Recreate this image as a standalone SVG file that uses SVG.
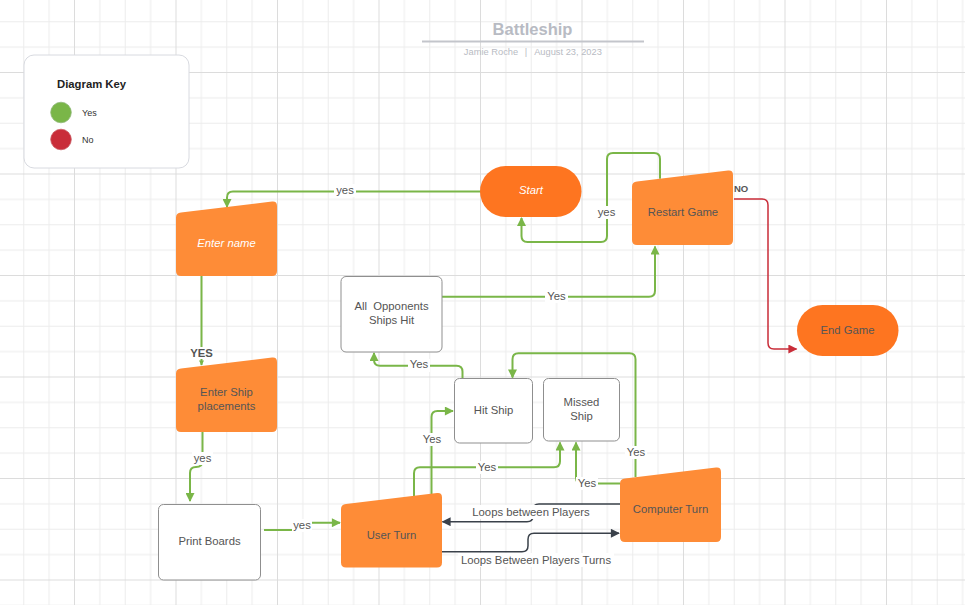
<svg xmlns="http://www.w3.org/2000/svg" width="965" height="605" viewBox="0 0 965 605">
<defs>
<pattern id="grid" patternUnits="userSpaceOnUse" x="74" y="72" width="101.5" height="101.5">
<path d="M25.87,0V101.5M51.25,0V101.5M76.62,0V101.5M0,25.87H101.5M0,51.25H101.5M0,76.62H101.5" stroke="#ececec" stroke-width="1" fill="none"/>
<path d="M0.5,0V101.5M0,0.5H101.5" stroke="#dcdcdc" stroke-width="1" fill="none"/>
</pattern>
<path id="trap" d="M5,11.4 L96,0.6 Q101,0 101,5 V70 Q101,75 96,75 H5 Q0,75 0,70 V16.4 Q0,12 5,11.4 Z"/>
<marker id="ag" viewBox="0 0 10 10" refX="9" refY="5" markerWidth="11" markerHeight="9" markerUnits="userSpaceOnUse" orient="auto"><path d="M0,0 L10,5 L0,10 Z" fill="#7ab648"/></marker>
<marker id="ags" viewBox="0 0 10 10" refX="9" refY="5" markerWidth="6" markerHeight="5" markerUnits="userSpaceOnUse" orient="auto"><path d="M0,0 L10,5 L0,10 Z" fill="#7ab648"/></marker>
<marker id="ar" viewBox="0 0 10 10" refX="9" refY="5" markerWidth="11" markerHeight="9" markerUnits="userSpaceOnUse" orient="auto"><path d="M0,0 L10,5 L0,10 Z" fill="#c92d39"/></marker>
<marker id="ad" viewBox="0 0 10 10" refX="9" refY="5" markerWidth="11" markerHeight="9" markerUnits="userSpaceOnUse" orient="auto"><path d="M0,0 L10,5 L0,10 Z" fill="#3a414a"/></marker>
</defs>
<style>
text{font-family:"Liberation Sans",Arial,sans-serif;}
.t{font-size:11.3px;fill:#555;text-anchor:middle;}
.w{font-size:11.3px;fill:#fff;text-anchor:middle;font-style:italic;}
.lb{font-size:11.3px;fill:#555;text-anchor:middle;}
.bg{fill:#fff;}
.g{fill:none;stroke:#7ab648;stroke-width:2;marker-end:url(#ag);}
.d{fill:none;stroke:#3a414a;stroke-width:1.5;marker-end:url(#ad);}
.box{fill:#fff;stroke:#8f8f8f;stroke-width:1;}
.man{fill:#fe8c37;}
.term{fill:#fe7520;}
</style>
<rect width="965" height="605" fill="#fff"/>
<rect width="965" height="605" fill="url(#grid)"/>

<g id="title">
<text x="532.5" y="35" text-anchor="middle" font-size="16.5" font-weight="bold" fill="#b8bbc3">Battleship</text>
<line x1="422" y1="41.5" x2="644" y2="41.5" stroke="#c3c5cb" stroke-width="2"/>
<text x="491" y="55" text-anchor="middle" font-size="9.3" fill="#b8bbc3">Jamie Roche</text>
<text x="526" y="55" text-anchor="middle" font-size="9.3" fill="#b8bbc3">|</text>
<text x="568" y="55" text-anchor="middle" font-size="9.3" fill="#b8bbc3">August 23, 2023</text>
</g>

<g id="key">
<rect x="24" y="55" width="165" height="113" rx="10" fill="#fff" stroke="#d8dae0" stroke-width="1"/>
<text x="57" y="88" font-size="11.3" font-weight="bold" fill="#222">Diagram Key</text>
<circle cx="61" cy="112.5" r="10.3" fill="#7ab648" stroke="#8fb878" stroke-width="0.8"/>
<circle cx="61" cy="139.5" r="10.3" fill="#c92d39" stroke="#c95c64" stroke-width="0.8"/>
<text x="82" y="115.5" font-size="9" fill="#333">Yes</text>
<text x="82" y="142.5" font-size="9" fill="#333">No</text>
</g>

<g id="connectors">
<path class="g" d="M481,191.5 H233 Q227,191.5 227,197.5 V207"/>
<path class="g" style="marker-end:url(#ags)" d="M201.5,276 V365"/>
<path class="g" d="M202.5,432 V461 Q202.5,467 196,467 Q190,467 190,473 V501"/>
<path class="g" d="M264,530 H300 V522.7 H340"/>
<path class="g" d="M431.5,494 V417 Q431.5,411 437.5,411 H453"/>
<path class="g" d="M414,496 V473.3 Q414,467.3 420,467.3 H554 Q560,467.3 560,461.3 V442.5"/>
<path class="g" d="M620,483.5 H582 Q576,483.5 576,477.5 V442.5"/>
<path class="g" d="M635.5,477 V359.3 Q635.5,353.3 629.5,353.3 H518.5 Q512.5,353.3 512.5,359.3 V377.5"/>
<path class="g" d="M462.5,378 V371.7 Q462.5,365.7 456.5,365.7 H380 Q374,365.7 374,359.7 V353"/>
<path class="g" d="M442,296.7 H649 Q655,296.7 655,290.7 V246.5"/>
<path class="g" d="M660,178.7 V159 Q660,153 654,153 H613 Q607,153 607,159 V236 Q607,242 601,242 H527.5 Q521.5,242 521.5,236 V218"/>
<path fill="none" stroke="#c92d39" stroke-width="1.5" marker-end="url(#ar)" d="M734,199 H762 Q768,199 768,205 V343 Q768,349 774,349 H796.5"/>
<path class="d" d="M620,504 H539 Q533,504 533,510 V515.7 Q533,521.7 527,521.7 H442.5"/>
<path class="d" d="M442,551.7 H522 Q528,551.7 528,545.7 V539.3 Q528,533.3 534,533.3 H619"/>

<rect class="bg" x="334" y="184" width="22" height="13"/>
<text class="lb" x="345" y="194">yes</text>
<rect class="bg" x="190" y="347" width="23" height="12"/>
<text class="lb" x="201.5" y="357" font-weight="bold" font-size="9.5">YES</text>
<rect class="bg" x="192" y="452" width="21" height="13"/>
<text class="lb" x="202.5" y="462">yes</text>
<rect class="bg" x="292" y="519" width="20" height="13"/>
<text class="lb" x="302" y="529">yes</text>
<rect class="bg" x="421" y="433" width="22" height="13"/>
<text class="lb" x="432" y="443">Yes</text>
<rect class="bg" x="476" y="461" width="22" height="13"/>
<text class="lb" x="487" y="471">Yes</text>
<rect class="bg" x="576" y="477" width="22" height="13"/>
<text class="lb" x="587" y="487">Yes</text>
<rect class="bg" x="625" y="446" width="22" height="13"/>
<text class="lb" x="636" y="456">Yes</text>
<rect class="bg" x="408" y="359" width="22" height="13"/>
<text class="lb" x="419" y="368">Yes</text>
<rect class="bg" x="545" y="290" width="23" height="13"/>
<text class="lb" x="556.5" y="300">Yes</text>
<rect class="bg" x="596" y="206" width="21" height="13"/>
<text class="lb" x="606.5" y="216">yes</text>
<text x="734" y="192" font-size="9.5" font-weight="bold" fill="#555">NO</text>
<rect class="bg" x="470" y="505" width="122" height="14"/>
<text class="lb" x="531" y="516">Loops between Players</text>
<rect class="bg" x="458" y="553" width="156" height="14"/>
<text class="lb" x="536" y="564">Loops Between Players Turns</text>
</g>

<g id="start">
<rect class="term" x="480" y="166" width="101.5" height="51" rx="25.5"/>
<text class="w" x="531" y="194">Start</text>
</g>
<g id="restart-game">
<use href="#trap" class="man" transform="translate(632,170)"/>
<text class="t" x="683" y="216">Restart Game</text>
</g>
<g id="end-game">
<rect class="term" x="797" y="305" width="101.5" height="51" rx="25.5"/>
<text class="t" x="847.5" y="334">End Game</text>
</g>
<g id="enter-name">
<use href="#trap" class="man" transform="translate(176,201)"/>
<text class="w" x="226.5" y="247">Enter name</text>
</g>
<g id="enter-ship-placements">
<use href="#trap" class="man" transform="translate(176,357)"/>
<text class="t" x="226.5" y="396">Enter Ship</text>
<text class="t" x="226.5" y="410">placements</text>
</g>
<g id="all-opponents-ships-hit">
<rect class="box" x="341" y="276.5" width="101" height="75.5" rx="5"/>
<text class="t" x="391.5" y="310" xml:space="preserve">All  Opponents</text>
<text class="t" x="391.5" y="324">Ships Hit</text>
</g>
<g id="hit-ship">
<rect class="box" x="454.5" y="378.5" width="78" height="64.5" rx="5"/>
<text class="t" x="493.5" y="414">Hit Ship</text>
</g>
<g id="missed-ship">
<rect class="box" x="543.5" y="378.5" width="76" height="62.5" rx="5"/>
<text class="t" x="581.5" y="406">Missed</text>
<text class="t" x="581.5" y="420">Ship</text>
</g>
<g id="print-boards">
<rect class="box" x="158.5" y="504.5" width="102" height="75.5" rx="5"/>
<text class="t" x="209.5" y="545">Print Boards</text>
</g>
<g id="user-turn">
<use href="#trap" class="man" transform="translate(341,492.5)"/>
<text class="t" x="391.5" y="539">User Turn</text>
</g>
<g id="computer-turn">
<use href="#trap" class="man" transform="translate(620,467)"/>
<text class="t" x="670.5" y="513">Computer Turn</text>
</g>
</svg>
